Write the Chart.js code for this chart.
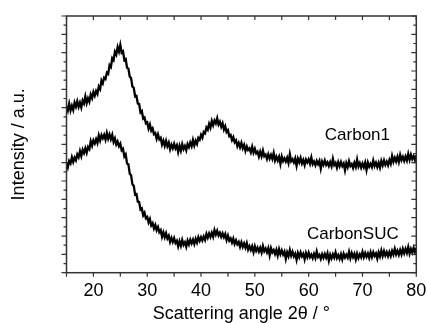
<!DOCTYPE html>
<html>
<head>
<meta charset="utf-8">
<script src="https://cdn.jsdelivr.net/npm/chart.js@4.4.0/dist/chart.umd.min.js"></script>
<style>
  body { margin: 0; background: #fff; }
  canvas { display: block; }
</style>
</head>
<body>
<canvas id="xrdChart" width="427" height="323"></canvas>
<script>
// scan grid of the diffractometer (2θ in degrees)
const angleStart = 15;
const angleStep = 0.25;

// intensities (a.u., stacked)
const carbon1 = [
  9.10, 8.85, 9.22, 8.84,  9.10, 8.87, 9.28, 9.06,  9.35, 9.04, 9.28, 9.01,
  9.39, 9.23, 9.61, 9.25,  9.51, 9.32, 9.72, 9.52,  9.86, 9.65, 9.91, 9.75,
  10.15, 10.01, 10.49, 10.33,  10.64, 10.57, 10.91, 10.84,  11.32, 11.22, 11.70, 11.60,
  12.05, 11.90, 12.30, 12.06,  12.42, 12.00, 12.07, 11.60,  11.65, 11.18, 11.14, 10.69,
  10.62, 10.15, 10.08, 9.61,  9.64, 9.22, 9.20, 8.74,  8.82, 8.40, 8.46, 8.15,
  8.20, 7.86, 8.08, 7.75,  7.87, 7.56, 7.62, 7.30,  7.54, 7.27, 7.36, 6.99,
  7.20, 6.92, 7.19, 6.90,  7.09, 6.73, 6.98, 6.78,  7.03, 6.78, 6.95, 6.58,
  6.92, 6.66, 7.01, 6.74,  6.91, 6.68, 7.02, 6.85,  7.10, 6.90, 7.24, 6.94,
  7.20, 7.02, 7.35, 7.25,  7.52, 7.36, 7.67, 7.60,  7.92, 7.80, 8.12, 7.91,
  8.28, 8.04, 8.30, 8.14,  8.42, 8.08, 8.23, 7.96,  8.15, 7.81, 7.99, 7.67,
  7.77, 7.45, 7.51, 7.23,  7.39, 7.11, 7.22, 6.90,  7.08, 6.84, 7.08, 6.79,
  6.97, 6.64, 6.89, 6.69,  6.78, 6.56, 6.87, 6.55,  6.76, 6.51, 6.60, 6.33,
  6.60, 6.35, 6.66, 6.35,  6.44, 6.20, 6.46, 6.22,  6.42, 6.21, 6.53, 6.12,
  6.33, 6.12, 6.32, 5.93,  6.34, 6.09, 6.24, 6.06,  6.27, 5.99, 6.46, 6.08,
  6.19, 6.01, 6.23, 5.83,  6.22, 6.02, 6.26, 5.96,  6.15, 5.87, 6.17, 6.01,
  6.18, 5.94, 6.28, 5.92,  6.06, 5.86, 6.10, 5.92,  6.10, 5.68, 6.06, 5.88,
  6.12, 5.88, 6.02, 5.82,  6.03, 5.81, 6.21, 5.87,  5.99, 5.73, 6.03, 5.81,
  6.04, 5.82, 5.96, 5.58,  5.98, 5.76, 6.08, 5.82,  5.93, 5.71, 5.99, 5.77,
  6.17, 5.79, 5.97, 5.73,  5.95, 5.75, 6.01, 5.61,  6.00, 5.78, 5.94, 5.76,
  6.12, 5.82, 6.00, 5.76,  5.99, 5.73, 6.09, 5.85,  6.12, 5.88, 6.06, 5.86,
  6.15, 5.94, 6.36, 6.05,  6.27, 6.07, 6.33, 6.04,  6.42, 6.14, 6.32, 6.10,
  6.34, 6.12, 6.48, 6.16,  6.44, 6.20, 6.36, 6.14,  6.42
];

const carbonSUC = [
  6.01, 5.75, 6.09, 5.96,  6.30, 6.04, 6.28, 6.13,  6.45, 6.30, 6.63, 6.36,
  6.71, 6.53, 6.79, 6.54,  6.86, 6.74, 7.17, 6.93,  7.22, 7.05, 7.28, 7.07,
  7.48, 7.21, 7.50, 7.33,  7.52, 7.26, 7.62, 7.31,  7.54, 7.28, 7.52, 7.13,
  7.32, 6.99, 7.15, 6.90,  7.04, 6.68, 6.76, 6.34,  6.45, 5.96, 5.92, 5.40,
  5.32, 4.82, 4.74, 4.26,  4.29, 3.87, 3.86, 3.45,  3.50, 3.13, 3.27, 2.97,
  3.04, 2.74, 2.93, 2.58,  2.70, 2.41, 2.60, 2.32,  2.49, 2.21, 2.32, 1.96,
  2.20, 1.93, 2.16, 1.87,  2.02, 1.68, 1.90, 1.68,  1.89, 1.62, 1.74, 1.43,
  1.72, 1.47, 1.79, 1.52,  1.66, 1.41, 1.75, 1.54,  1.80, 1.60, 1.80, 1.56,
  1.84, 1.64, 1.94, 1.74,  1.94, 1.76, 1.97, 1.79,  2.12, 1.91, 2.14, 1.95,
  2.18, 1.96, 2.32, 2.08,  2.29, 2.03, 2.18, 1.96,  2.15, 1.93, 2.11, 1.78,
  2.02, 1.75, 1.87, 1.64,  1.86, 1.57, 1.76, 1.55,  1.68, 1.41, 1.66, 1.41,
  1.60, 1.37, 1.61, 1.26,  1.44, 1.24, 1.44, 1.12,  1.44, 1.19, 1.36, 1.15,
  1.36, 1.10, 1.45, 1.17,  1.32, 1.11, 1.34, 0.95,  1.34, 1.11, 1.24, 1.02,
  1.25, 0.94, 1.28, 1.01,  1.22, 0.99, 1.15, 0.76,  1.11, 0.90, 1.24, 0.93,
  1.14, 0.89, 1.04, 0.70,  1.07, 0.85, 1.11, 0.89,  1.03, 0.73, 1.07, 0.85,
  1.09, 0.85, 0.99, 0.79,  1.02, 0.80, 1.16, 0.86,  0.97, 0.75, 1.01, 0.81,
  1.02, 0.82, 1.06, 0.66,  0.98, 0.78, 1.00, 0.82,  1.10, 0.80, 0.96, 0.76,
  1.01, 0.73, 1.03, 0.83,  0.98, 0.82, 1.14, 0.80,  1.07, 0.85, 1.03, 0.73,
  1.04, 0.80, 1.00, 0.84,  1.13, 0.85, 1.07, 0.87,  1.05, 0.81, 1.11, 0.85,
  1.11, 0.91, 1.05, 0.77,  1.11, 0.89, 1.21, 0.91,  1.18, 0.94, 1.12, 0.90,
  1.13, 0.91, 1.19, 0.99,  1.30, 1.00, 1.20, 0.98,  1.24, 1.00, 1.30, 1.06,
  1.30, 1.08, 1.40, 1.04,  1.30, 1.10, 1.36, 1.12,  1.35
];

const xTicks = [20, 30, 40, 50, 60, 70, 80];
const xMinorTicks = [15, 25, 35, 45, 55, 65, 75];
const yMax = 14;

const angles = carbon1.map((_, i) => angleStart + i * angleStep);

const FONT = '"Liberation Sans", Arial, sans-serif';

// series names written next to the curves
const seriesLabels = [
  { text: 'Carbon1', x: 63.0, y: 7.47 },
  { text: 'CarbonSUC', x: 59.7, y: 2.11 }
];

// frame, in/out ticks and curve labels
const frameAndTicks = {
  id: 'frameAndTicks',
  afterDraw(chart) {
    const { ctx, chartArea: a, scales: { x, y } } = chart;
    ctx.save();
    ctx.strokeStyle = '#333';
    ctx.lineWidth = 1.5;
    ctx.strokeRect(a.left, a.top, a.right - a.left, a.bottom - a.top);

    ctx.lineWidth = 1.2;
    ctx.beginPath();
    [...xTicks, ...xMinorTicks].forEach(v => {
      const px = x.getPixelForValue(v);
      ctx.moveTo(px, a.bottom); ctx.lineTo(px, a.bottom + 4);
      ctx.moveTo(px, a.top); ctx.lineTo(px, a.top + 4);
    });
    for (let v = 0; v <= yMax; v += 0.5) {
      const py = y.getPixelForValue(v);
      const len = v % 1 === 0 ? 5 : 3;
      ctx.moveTo(a.left, py); ctx.lineTo(a.left - len, py);
      ctx.moveTo(a.right, py); ctx.lineTo(a.right - len, py);
    }
    ctx.stroke();

    ctx.fillStyle = '#000';
    ctx.font = '17px ' + FONT;
    ctx.textBaseline = 'middle';
    seriesLabels.forEach(l => {
      ctx.fillText(l.text, x.getPixelForValue(l.x), y.getPixelForValue(l.y));
    });
    ctx.restore();
  }
};

function toPoints(values) {
  return values.map((v, i) => ({ x: angles[i], y: v }));
}

new Chart(document.getElementById('xrdChart'), {
  type: 'line',
  data: {
    datasets: [
      { label: 'Carbon1', data: toPoints(carbon1) },
      { label: 'CarbonSUC', data: toPoints(carbonSUC) }
    ]
  },
  options: {
    responsive: false,
    animation: false,
    layout: { padding: { top: 16, right: 10.7, left: 0, bottom: 0 } },
    elements: {
      point: { radius: 0 },
      line: { borderColor: '#000', borderWidth: 2.3, tension: 0 }
    },
    plugins: {
      legend: { display: false },
      tooltip: { enabled: false }
    },
    scales: {
      x: {
        type: 'linear',
        min: 15,
        max: 80,
        afterBuildTicks: s => { s.ticks = xTicks.map(v => ({ value: v })); },
        afterFit: s => { s.height = 50.3; s.paddingLeft = 0; s.paddingRight = 0; },
        grid: { display: false, drawTicks: false },
        border: { display: false },
        ticks: { color: '#000', padding: 8, maxRotation: 0, font: { size: 18, family: FONT } },
        title: {
          display: true,
          text: 'Scattering angle 2θ / °',
          color: '#000',
          padding: { top: 0, bottom: -2 },
          font: { size: 18, family: FONT }
        }
      },
      y: {
        min: 0,
        max: yMax,
        afterFit: s => { s.width = 66.5; },
        grid: { display: false, drawTicks: false },
        border: { display: false },
        ticks: { display: false },
        title: {
          display: true,
          text: 'Intensity / a.u.',
          color: '#000',
          padding: { top: 8, bottom: 0 },
          font: { size: 18, family: FONT }
        }
      }
    }
  },
  plugins: [frameAndTicks]
});
</script>
</body>
</html>
